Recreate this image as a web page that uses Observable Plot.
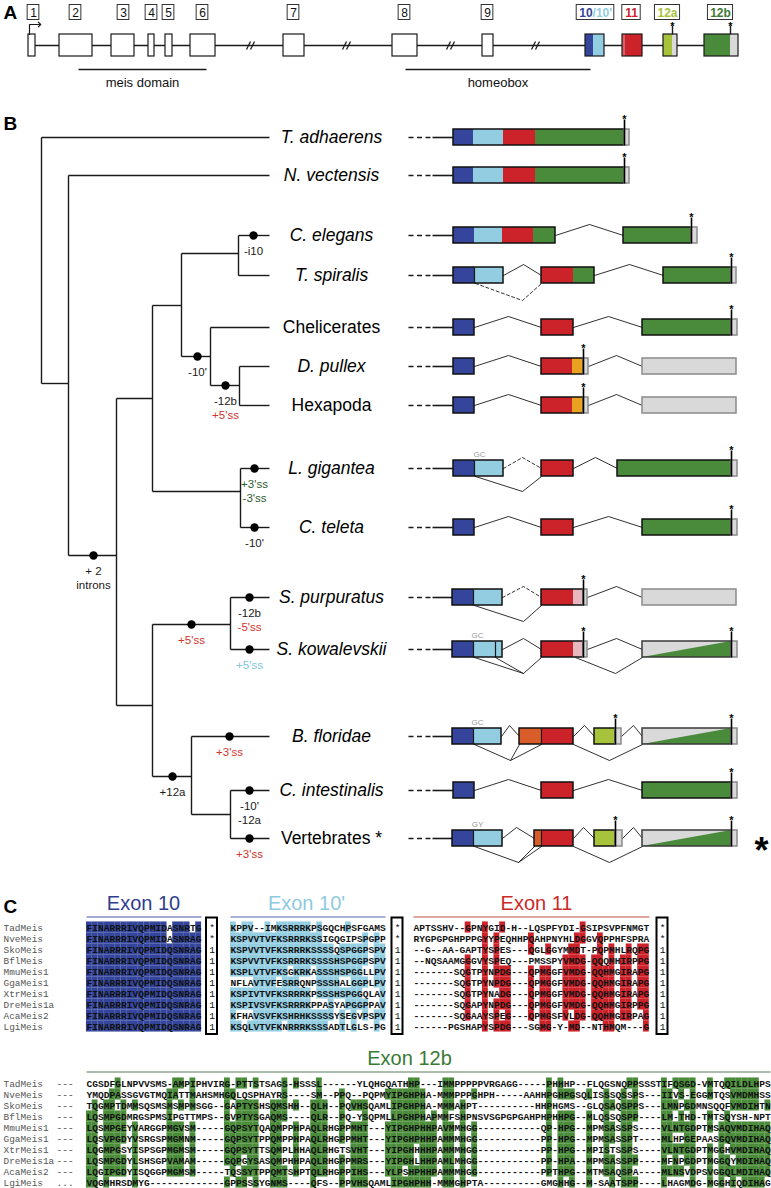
<!DOCTYPE html>
<html>
<head>
<meta charset="utf-8">
<script src="https://cdn.jsdelivr.net/npm/d3@7"></script>
<script src="https://cdn.jsdelivr.net/npm/@observablehq/plot@0.6"></script>
<style>
html,body{margin:0;padding:0;background:#fff;}
#chart svg{display:block;}
</style>
</head>
<body>
<div id="chart"></div>
<script>
// ======================= DATA =======================
// ---- Panel A: Meis gene model (exon coordinates along the drawn gene) ----
const geneExonIds   = ["1","2","3","4","5","6","7","8","9","10/10'","11","12a","12b"];
const geneExonStart = [28,59,111,148,165,190,283,392,482,585,622,663,704];
const geneExonEnd   = [35,92,134,154,172,215,304,417,493,604,642,677,738];
const geneLabelCenter = [33,75,123,151,168,202,293,404,487,595,631,667,720];
const geneColouredParts = [
  {start:585,end:593,key:"db"},{start:593,end:604,key:"lb"},
  {start:622,end:625,key:"rd2"},{start:625,end:642,key:"rd"},
  {start:663,end:672,key:"yg"},{start:672,end:677,key:"gy"},
  {start:704,end:730,key:"gr"},{start:730,end:738,key:"gy"}
];
const geneStops  = [672,730];
const geneBreaks = [250,346,450,535];
const geneDomains = [{name:"meis domain",start:78,end:206},{name:"homeobox",start:405,end:590}];

// ---- Panel B: tree ----
const leafNames  = ["T. adhaerens","N. vectensis","C. elegans","T. spiralis","Chelicerates","D. pullex","Hexapoda","L. gigantea","C. teleta","S. purpuratus","S. kowalevskii","B. floridae","C. intestinalis","Vertebrates *"];
const leafItalic = [true,true,true,true,false,true,false,true,true,true,true,true,true,false];
const leafRowY   = [137,175,235,275,327,366,405,468,527,597,649,736,790,838];
const leafParent = ["root","n1","nem","nem","art","pan","pan","lop","lop","amb","amb","cho","olf","olf"];
const treeNodes = [
  {id:"root",parent:null, depth:41},
  {id:"n1",  parent:"root",depth:68, y:383},
  {id:"bil", parent:"n1",  depth:116,y:555},
  {id:"pro", parent:"bil", depth:152,y:398},
  {id:"ecd", parent:"pro", depth:181,y:305},
  {id:"nem", parent:"ecd", depth:238,y:253},
  {id:"art", parent:"ecd", depth:210,y:356},
  {id:"pan", parent:"art", depth:239,y:385},
  {id:"lop", parent:"pro", depth:240,y:491},
  {id:"deu", parent:"bil", depth:152,y:705},
  {id:"amb", parent:"deu", depth:230,y:624},
  {id:"cho", parent:"deu", depth:191,y:776},
  {id:"olf", parent:"cho", depth:230,y:814}
];
const treeEvents = [
  {on:"C. elegans",    at:253, labels:[["-i10","k"]]},
  {on:"art",           at:197, labels:[["-10'","k"]]},
  {on:"pan",           at:225, labels:[["-12b","k"],["+5'ss","red"]]},
  {on:"L. gigantea",   at:254, labels:[["+3'ss","dkg"],["-3'ss","dkg"]]},
  {on:"C. teleta",     at:254, labels:[["-10'","k"]]},
  {on:"bil",           at:93,  labels:[["+ 2","k"],["introns","k"]]},
  {on:"amb",           at:191, labels:[["+5'ss","red"]]},
  {on:"S. purpuratus", at:249, labels:[["-12b","k"],["-5'ss","red"]]},
  {on:"S. kowalevskii",at:249, labels:[["+5'ss","blue"]]},
  {on:"cho",           at:172, labels:[["+12a","k"]]},
  {on:"B. floridae",   at:229, labels:[["+3'ss","red"]]},
  {on:"C. intestinalis",at:249,labels:[["-10'","k"],["-12a","k"]]},
  {on:"Vertebrates *", at:249, labels:[["+3'ss","red"]]}
];

// ---- Panel B: exon structures (species, start, end, colour key) ----
const structParts = [
  ["T. adhaerens",453,473,"db"],["T. adhaerens",473,503,"lb"],["T. adhaerens",503,535,"rd"],["T. adhaerens",535,624,"gr"],["T. adhaerens",624,629,"gy"],
  ["N. vectensis",453,473,"db"],["N. vectensis",473,503,"lb"],["N. vectensis",503,535,"rd"],["N. vectensis",535,624,"gr"],["N. vectensis",624,629,"gy"],
  ["C. elegans",453,474,"db"],["C. elegans",474,502,"lb"],["C. elegans",502,533,"rd"],["C. elegans",533,555,"gr"],["C. elegans",623,691,"gr"],["C. elegans",691,697,"gy"],
  ["T. spiralis",453,474,"db"],["T. spiralis",474,503,"lb"],["T. spiralis",541,573,"rd"],["T. spiralis",573,594,"gr"],["T. spiralis",663,731,"gr"],["T. spiralis",731,736,"gy"],
  ["Chelicerates",453,474,"db"],["Chelicerates",541,573,"rd"],["Chelicerates",642,731,"gr"],["Chelicerates",731,737,"gy"],
  ["D. pullex",453,474,"db"],["D. pullex",541,572,"rd"],["D. pullex",572,583,"or"],["D. pullex",583,588,"gy"],["D. pullex",642,736,"gy"],
  ["Hexapoda",453,474,"db"],["Hexapoda",541,572,"rd"],["Hexapoda",572,583,"or"],["Hexapoda",583,588,"gy"],["Hexapoda",642,736,"gy"],
  ["L. gigantea",453,474,"db"],["L. gigantea",474,503,"lb"],["L. gigantea",541,573,"rd"],["L. gigantea",617,731,"gr"],["L. gigantea",731,737,"gy"],
  ["C. teleta",453,474,"db"],["C. teleta",541,573,"rd"],["C. teleta",642,731,"gr"],["C. teleta",731,737,"gy"],
  ["S. purpuratus",452,473,"db"],["S. purpuratus",473,502,"lb"],["S. purpuratus",541,573,"rd"],["S. purpuratus",573,583,"pk"],["S. purpuratus",583,587,"gy"],["S. purpuratus",642,736,"gy"],
  ["S. kowalevskii",452,473,"db"],["S. kowalevskii",473,502,"lb"],["S. kowalevskii",541,573,"rd"],["S. kowalevskii",573,583,"pk"],["S. kowalevskii",583,587,"gy"],["S. kowalevskii",642,731,"gy"],["S. kowalevskii",731,737,"gy"],
  ["B. floridae",452,473,"db"],["B. floridae",473,501,"lb"],["B. floridae",519,541,"or2"],["B. floridae",541,573,"rd"],["B. floridae",594,615,"yg"],["B. floridae",615,621,"gy"],["B. floridae",642,731,"gy"],["B. floridae",731,737,"gy"],
  ["C. intestinalis",453,474,"db"],["C. intestinalis",541,573,"rd"],["C. intestinalis",642,731,"gr"],["C. intestinalis",731,737,"gy"],
  ["Vertebrates *",452,473,"db"],["Vertebrates *",473,502,"lb"],["Vertebrates *",534,541,"or2"],["Vertebrates *",541,573,"rd"],["Vertebrates *",594,615,"yg"],["Vertebrates *",615,622,"gy"],["Vertebrates *",642,731,"gy"],["Vertebrates *",731,737,"gy"]
];
const structBoxes = [
  ["T. adhaerens",453,624,"k"],["T. adhaerens",624,629,"g"],
  ["N. vectensis",453,624,"k"],["N. vectensis",624,629,"g"],
  ["C. elegans",453,555,"k"],["C. elegans",623,691,"k"],["C. elegans",691,697,"g"],
  ["T. spiralis",453,503,"k"],["T. spiralis",541,594,"k"],["T. spiralis",663,731,"k"],["T. spiralis",731,736,"g"],
  ["Chelicerates",453,474,"k"],["Chelicerates",541,573,"k"],["Chelicerates",642,731,"k"],["Chelicerates",731,737,"g"],
  ["D. pullex",453,474,"k"],["D. pullex",541,583,"k"],["D. pullex",583,588,"g"],["D. pullex",642,736,"g"],
  ["Hexapoda",453,474,"k"],["Hexapoda",541,583,"k"],["Hexapoda",583,588,"g"],["Hexapoda",642,736,"g"],
  ["L. gigantea",453,503,"k"],["L. gigantea",541,573,"k"],["L. gigantea",617,731,"k"],["L. gigantea",731,737,"g"],
  ["C. teleta",453,474,"k"],["C. teleta",541,573,"k"],["C. teleta",642,731,"k"],["C. teleta",731,737,"g"],
  ["S. purpuratus",452,502,"k"],["S. purpuratus",541,583,"k"],["S. purpuratus",583,587,"g"],["S. purpuratus",642,736,"g"],
  ["S. kowalevskii",452,502,"k"],["S. kowalevskii",541,583,"k"],["S. kowalevskii",583,587,"g"],["S. kowalevskii",642,731,"d"],["S. kowalevskii",731,737,"g"],
  ["B. floridae",452,501,"k"],["B. floridae",519,573,"k"],["B. floridae",594,615,"k"],["B. floridae",615,621,"g"],["B. floridae",642,731,"d"],["B. floridae",731,737,"g"],
  ["C. intestinalis",453,474,"k"],["C. intestinalis",541,573,"k"],["C. intestinalis",642,731,"k"],["C. intestinalis",731,737,"g"],
  ["Vertebrates *",452,502,"k"],["Vertebrates *",534,573,"k"],["Vertebrates *",594,615,"k"],["Vertebrates *",615,622,"g"],["Vertebrates *",642,731,"d"],["Vertebrates *",731,737,"g"]
];
const structTriangles = [["S. kowalevskii",642,731],["B. floridae",642,731],["Vertebrates *",642,731]];
const structStops = [
  ["T. adhaerens",624],["N. vectensis",624],["C. elegans",691],["T. spiralis",731],["Chelicerates",731],
  ["D. pullex",583],["Hexapoda",583],["L. gigantea",731],["C. teleta",731],["S. purpuratus",583],
  ["S. kowalevskii",583],["S. kowalevskii",731],["B. floridae",615],["B. floridae",731],
  ["C. intestinalis",731],["Vertebrates *",615],["Vertebrates *",731]
];
const structDividers = [["T. spiralis",474],["L. gigantea",474],["S. purpuratus",473],["S. kowalevskii",473],["S. kowalevskii",495],
  ["B. floridae",473],["B. floridae",541],["Vertebrates *",473],["Vertebrates *",541]];
// introns: species, dashed?, vertices [x, offset from row centre]
const structIntrons = [
  ["C. elegans",false,[[555,0],[589,-11],[623,0]]],
  ["T. spiralis",false,[[503,0],[523,-11],[541,0]]],["T. spiralis",false,[[594,0],[629,-11],[663,0]]],["T. spiralis",true,[[475,8],[522,25],[541,8]]],
  ["Chelicerates",false,[[474,0],[508,-11],[541,0]]],["Chelicerates",false,[[573,0],[608,-11],[642,0]]],
  ["D. pullex",false,[[474,0],[508,-11],[541,0]]],["D. pullex",false,[[588,0],[616,-11],[642,0]]],
  ["Hexapoda",false,[[474,0],[508,-11],[541,0]]],["Hexapoda",false,[[588,0],[616,-11],[642,0]]],
  ["L. gigantea",true,[[503,0],[522,-11],[541,0]]],["L. gigantea",false,[[475,8],[522,23],[541,8]]],["L. gigantea",false,[[573,0],[595,-11],[617,0]]],
  ["C. teleta",false,[[474,0],[508,-11],[541,0]]],["C. teleta",false,[[573,0],[608,-11],[642,0]]],
  ["S. purpuratus",true,[[502,0],[523,-11],[541,0]]],["S. purpuratus",false,[[474,8],[523,24],[541,8]]],["S. purpuratus",false,[[587,0],[616,-11],[642,0]]],
  ["S. kowalevskii",false,[[502,0],[523,-11],[541,0]]],["S. kowalevskii",false,[[474,8],[523,24],[541,8]]],["S. kowalevskii",false,[[495,8],[523,24]]],
  ["S. kowalevskii",false,[[587,0],[616,-11],[642,0]]],["S. kowalevskii",false,[[575,8],[615,24],[642,8]]],
  ["B. floridae",false,[[501,0],[509,-11],[519,0]]],["B. floridae",false,[[573,0],[584,-11],[594,0]]],["B. floridae",false,[[621,0],[633,-11],[642,0]]],
  ["B. floridae",false,[[474,8],[510,24],[519,8]]],["B. floridae",false,[[510,24],[541,8]]],["B. floridae",false,[[573,8],[609,24],[642,8]]],
  ["C. intestinalis",false,[[474,0],[508,-11],[541,0]]],["C. intestinalis",false,[[573,0],[608,-11],[642,0]]],
  ["Vertebrates *",false,[[502,0],[516,-11],[534,0]]],["Vertebrates *",false,[[573,0],[583,-11],[594,0]]],["Vertebrates *",false,[[622,0],[633,-11],[642,0]]],
  ["Vertebrates *",false,[[474,8],[518,24],[534,8]]],["Vertebrates *",false,[[518,24],[541,8]]],["Vertebrates *",false,[[573,8],[609,24],[642,8]]]
];
const structSiteLabels = [["L. gigantea",479,"GC"],["S. kowalevskii",477,"GC"],["B. floridae",477,"GC"],["Vertebrates *",477,"GY"]];

// ---- Panel C: alignments ----
const alnNames = ["TadMeis","NveMeis","SkoMeis","BflMeis","MmuMeis1","GgaMeis1","XtrMeis1","DreMeis1a","AcaMeis2","LgiMeis"];
const exon10Seqs = [
  "FINARRRIVQPMIDASNRTG","FINARRRIVQPMIDASNRAG","FINARRRIVQPMIDQSNRAG","FINARRRIVQPMIDQSNRAG","FINARRRIVQPMIDQSNRAG",
  "FINARRRIVQPMIDQSNRAG","FINARRRIVQPMIDQSNRAG","FINARRRIVQPMIDQSNRAG","FINARRRIVQPMIDQSNRAG","FINARRRIVQPMIDQSNRAG"];
const exon10pSeqs = [
  "KPPV--IMKSRRRKPSGQCHPSFGAMS","KSPVVTVFKSRRRKSSIGQGIPSPGPP","KSPVVTVFKSRRRKSSSSQSPGGPSPV","KSPVVTVFKSRRRKSSSSHSPGGPSPV",
  "KSPLVTVFKSGKRKASSSHSPGGLLPV","NFLAVTVFESRRQNPSSSHALGGPLPV","KSPIVTVFKSRRRKPSSSHSPGGQLAV","KSPIVSVFKSRRRKPPASYAPGGPPAV",
  "KFHAVSVFKSHRHKSSSSYSEGVPSPV","KSQLVTVFKNRRRKSSSADTLGLS-PG"];
const exon11Seqs = [
  "APTSSHV--GPNYGID-H--LQSPFYDI-GSIPSVPFNMGT","RYGPGPGHPPPGYYPEQHHPQAHPNYHLDGGVQPPHFSPRA",
  "--G--AA-GAPTYSPES---QGLGGYMMDT-PQPMHLRQPG","--NQSAAMGGGVYSPEQ---PMSSPYVMDG-QQQMHIRPPG",
  "-------SQGTPYNPDG---QPMGGFVMDG-QQHMGIRAPG","-------SQGTPYNPDG---QPMGGFVMDG-QQHMGIRAPG",
  "-------SQGTPYNADG---QPMGGFVMDG-QQHMGIRAPG","-------SQGAPYNPDG---QPMGGFVMDG-QQHMGIRPPG",
  "-------SQGAAYSPEG---QPMGSFVLDG-QQHMGIRPAG","------PGSHAPYSPDG---SGMG-Y-MD--NTHMQM---G"];
const phaseMarks = ["*","*","1","1","1","1","1","1","1","1"];
const exon12bLead = ["---","---","---","---","---","---","---","---","---","..."];
const exon12bSeqs = [
  "CGSDFGLNPVVSMS-AMPIPHVIRG-PTTSTSAGS-HSSSL------YLQHGQATHHP---IMMPPPPPVRGAGG-----PHHHP--FLQGSNQPPSSSTIFQSGD-VMTQQILDLHPS",
  "YMQDPASSGVGTMQIATTMAHSMHGQLQSPHAYRS----SM--PPQ--PQPMYIPGHPHA-MMMPPPGHPH-----AAHHPGHPGSQLISSSQSSPS---IIVS-EGGMTQSVMDMHSS",
  "TQGMPTDMMSQSMSMSMPMSGG--GAPTYSHSQMSHH--QLH--PQVHSQAMLIPGHPHA-MMMAHPT----------HHPHGMS--GLQSAQSPPS---LMNPGDMNSQQFVMDIHTN",
  "LQSMPGDMRGSPMSIPGTTMPS--GVPTYSGAQMS----QLR--PQ-YSQPMLLPGHPHAPMMFSHPNSVSGPGPGAHPHPHHPG--MLQSSQSPP----LM-THD-TMTSQYSH-NPT",
  "LQSMPGEYVARGGPMGVSM-----GQPSYTQAQMPPHPAQLRHGPPMHT---YIPGHPHHPAVMMHGG-----------QP-HPG--MPMSASSPS----VLNTGDPTMSAQVMDIHAQ",
  "LQSVPGDYVSRGSPMGMNM-----GQPSYTPPQMPPHPAQLRHGPPMHT---YIPGHPHHPAMMMHGG-----------PP-HPG--MPMSASSPT----MLHPGEPAASGQVMDIHAQ",
  "LQGMPGSYISPSGPMGMSM-----GQPSYTTSQMPLHHAQLRHGTSVHT---YIPGHHHHPAMMMHGG-----------PP-HPG--MPISTSSPS----VLNTGDPTMGGHVMDIHAQ",
  "LQSMPGDYLSHSGPVAMAM-----GQPGYSASQMPHHPAQLRHGPPMRS---YIPGHLHHPAMLMHGG-----------PP-HPA--MPMSASSPP----MFNPGDPTMGGQYMDIHAQ",
  "LQGIPGDYISQGGPMGMSM-----TQSSYTPPQMTSHPTQLRHGPPIHS---YLPSHPHHPAMMMHGG-----------PPTHPG--MTMSAQSPA----MLNSVDPSVGGQLMDIHAQ",
  "VQGMHRSDMYG-------------GPPSSSYGNMS----QFS--PPVHSQAMLIPGHPHH-MMMGHPTA----------GMGHHG--M-SAATSPP----LHAGMDG-MGGHIQDIHAG"];
// residue similarity groups used for shading
const similarityGroups = ["ILMV","FYW","KRH","DE","QN","ST","AG","P","C"];

// ======================= STYLE / LAYOUT =======================
const W = 771, H = 1188;
const C = {db:"#34459b", lb:"#93cde1", rd:"#cc2229", rd2:"#d8606a", gr:"#4a8a3b", gy:"#d9d9d9", or:"#e9a21f",
  or2:"#d85d28", yg:"#a7c23b", pk:"#e8b8c1", grDark:"#3e7a36", k:"#1a1a1a", red:"#d0342c", blue:"#7ec5dc", dkg:"#2e5b30"};
const SANS = "Liberation Sans, Arial, Helvetica, sans-serif";
const MONO = "Liberation Mono, Courier New, monospace";
const geneY = 45, geneHalf = 11, labelY = 12, domainY = 69;
const tipX = 269, leafLabelX = 331, boxHalf = 8, leaderX0 = 408, leaderX1 = 432, leaderX2 = 453;
const cw = 5.75, alnY0 = 927, alnStep = 11, aln2Y0 = 1083;

// ======================= DERIVED =======================
const rowY = new Map(leafNames.map((n, i) => [n, leafRowY[i]]));
const nodeById = new Map(treeNodes.map(n => [n.id, n]));
const posY = id => rowY.has(id) ? rowY.get(id) : nodeById.get(id).y;
const posX = id => rowY.has(id) ? tipX : nodeById.get(id).depth;
const allChildren = id => [
  ...treeNodes.filter(n => n.parent === id).map(n => n.id),
  ...leafNames.filter((n, i) => leafParent[i] === id)];
const hEdges = [
  ...treeNodes.filter(n => n.parent).map(n => ({x1: posX(n.parent), x2: n.depth, y: n.y})),
  ...leafNames.map((n, i) => ({x1: posX(leafParent[i]), x2: tipX, y: leafRowY[i]}))];
const vEdges = treeNodes.map(n => {
  const ys = allChildren(n.id).map(posY);
  return {x: n.depth, y1: d3.min(ys), y2: d3.max(ys)};
});
const eventLabels = treeEvents.flatMap(e => e.labels.map(([t, c], j) => ({x: e.at, y: posY(e.on) + 16 + 14 * j, t, c: C[c]})));

const geneExons = geneExonIds.map((id, i) => ({id, start: geneExonStart[i], end: geneExonEnd[i], lc: geneLabelCenter[i]}));
const charW = ch => /[0-9ab]/.test(ch) ? 6.7 : ch === "/" ? 3.4 : 2.4;
const geneLabelBoxes = geneExons.map(e => {
  const w = d3.sum(e.id.split(""), charW) + 5;
  return {x1: e.lc - w / 2, x2: e.lc + w / 2, c: e.lc};
});
const coloredLabel = {"10/10'": [["10", "db"], ["/10'", "lb"]], "11": [["11", "rd"]], "12a": [["12a", "yg"]], "12b": [["12b", "grDark"]]};
const geneLabelTexts = geneExons.flatMap(e => {
  const parts = coloredLabel[e.id];
  if (!parts) return [{x: e.lc, t: e.id, c: "#111", anchor: "middle", bold: false}];
  if (parts.length === 1) return [{x: e.lc, t: parts[0][0], c: C[parts[0][1]], anchor: "middle", bold: true}];
  const total = d3.sum(e.id.split(""), charW);
  const split = e.lc - total / 2 + d3.sum(parts[0][0].split(""), charW);
  return [{x: split, t: parts[0][0], c: C[parts[0][1]], anchor: "end", bold: true},
          {x: split, t: parts[1][0], c: C[parts[1][1]], anchor: "start", bold: true}];
});

const groupOf = ch => { const g = similarityGroups.find(s => s.includes(ch)); return g || ch; };
function block(seqs, x0, y0, threshold, colour, similar) {
  const L = d3.max(seqs, s => s.length);
  const key = similar ? groupOf : (c => c);
  const cons = d3.range(L).map(i => {
    const counts = d3.rollup(seqs.map(s => s[i]).filter(c => c && c !== "-" && c !== "."), v => v.length, key);
    let best = null, n = 0;
    for (const [c, k] of counts) if (k > n) { n = k; best = c; }
    return n >= threshold ? best : null;
  });
  return seqs.flatMap((s, r) => s.split("").map((ch, i) => ({
    x: x0 + (i + 0.5) * cw, y: y0 + r * alnStep, ch,
    shade: cons[i] !== null && ch !== "-" && key(ch) === cons[i], fill: colour
  })));
}
const cells = [
  ...block(exon10Seqs, 86, alnY0, 5, C.db, false),
  ...block(exon10pSeqs, 230, alnY0, 4, C.lb, true),
  ...block(exon11Seqs, 413, alnY0, 6, C.rd, false),
  ...block(exon12bSeqs, 86, aln2Y0, 6, "#4b8c3a", true)
];
const phaseCols = [211.5, 397, 662];
const phaseCells = phaseCols.flatMap(x => phaseMarks.map((m, r) => ({x, y: alnY0 + r * alnStep, m})));
const leadCells = exon12bLead.flatMap((s, r) => s.split("").map((ch, i) => ({x: 56 + (i + 0.5) * cw, y: aln2Y0 + r * alnStep, ch})));
const nameCells = [
  ...alnNames.map((n, r) => ({n, y: alnY0 + r * alnStep})),
  ...alnNames.map((n, r) => ({n, y: aln2Y0 + r * alnStep}))];

const line = {stroke: "#1a1a1a", strokeWidth: 1.4};
const structY = d => rowY.get(d[0]);
const introPts = structIntrons.flatMap((d, k) => d[2].map(([x, o]) => ({k, x, y: rowY.get(d[0]) + o, dashed: d[1]})));
const triPts = structTriangles.flatMap((d, k) => [
  {k, x: d[1], y1: rowY.get(d[0]) + boxHalf, y2: rowY.get(d[0]) + boxHalf},
  {k, x: d[2], y1: rowY.get(d[0]) + boxHalf, y2: rowY.get(d[0]) - boxHalf}]);
const exonHeaders = [
  {t: "Exon 10", x: 143, y: 903, c: "#2f3d8f"}, {t: "Exon 10'", x: 306, y: 903, c: "#8ecae0"},
  {t: "Exon 11", x: 536, y: 903, c: "#cc2a2a"}, {t: "Exon 12b", x: 409, y: 1058, c: "#3a7a35"}];

const marks = [
  // ---------- panel letters ----------
  Plot.text([{t: "A", y: 12}, {t: "B", y: 123}, {t: "C", y: 906}], {x: () => 3, y: "y", text: "t", textAnchor: "start", fontSize: 19, fontWeight: "bold", fontFamily: SANS, fill: "#000"}),

  // ---------- Panel A ----------
  Plot.ruleY([geneY], {x1: geneExonStart[0], x2: geneExonEnd[geneExonEnd.length - 1] - 10, stroke: "#1a1a1a", strokeWidth: 1.4}),
  Plot.link(geneBreaks, {x1: d => d - 4, x2: d => d, y1: geneY + 4, y2: geneY - 4, stroke: "#1a1a1a", strokeWidth: 1.2}),
  Plot.link(geneBreaks, {x1: d => d, x2: d => d + 4, y1: geneY + 4, y2: geneY - 4, stroke: "#1a1a1a", strokeWidth: 1.2}),
  Plot.rect(geneExons, {x1: "start", x2: "end", y1: geneY - geneHalf, y2: geneY + geneHalf, fill: "#fff"}),
  Plot.rect(geneColouredParts, {x1: "start", x2: "end", y1: geneY - geneHalf, y2: geneY + geneHalf, fill: d => C[d.key]}),
  Plot.rect(geneExons, {x1: "start", x2: "end", y1: geneY - geneHalf, y2: geneY + geneHalf, fill: "none", stroke: "#1a1a1a", strokeWidth: 1.2}),
  Plot.link(geneStops, {x1: d => d, x2: d => d, y1: geneY - geneHalf, y2: geneY - geneHalf - 9, stroke: "#1a1a1a", strokeWidth: 1.4}),
  Plot.text(geneStops, {x: d => d, y: geneY - geneHalf - 8, text: () => "*", fontSize: 11, fontWeight: "bold", fill: "#000"}),
  Plot.line([[geneExonStart[0] + 1, geneY - geneHalf], [geneExonStart[0] + 1, geneY - geneHalf - 10], [geneExonStart[0] + 11, geneY - geneHalf - 10]],
    {stroke: "#1a1a1a", strokeWidth: 1.2, markerEnd: "arrow"}),
  Plot.rect(geneLabelBoxes, {x1: "x1", x2: "x2", y1: labelY - 7.5, y2: labelY + 7.5, fill: "#fff", stroke: "#333", strokeWidth: 1}),
  Plot.text(geneLabelTexts.filter(d => d.anchor === "middle" && !d.bold), {x: "x", y: labelY + 0.5, text: "t", fill: "c", fontSize: 12, fontFamily: SANS}),
  Plot.text(geneLabelTexts.filter(d => d.anchor === "middle" && d.bold), {x: "x", y: labelY + 0.5, text: "t", fill: "c", fontSize: 12, fontWeight: "bold", fontFamily: SANS}),
  Plot.text(geneLabelTexts.filter(d => d.anchor === "end"), {x: "x", y: labelY + 0.5, text: "t", fill: "c", textAnchor: "end", fontSize: 12, fontWeight: "bold", fontFamily: SANS}),
  Plot.text(geneLabelTexts.filter(d => d.anchor === "start"), {x: "x", y: labelY + 0.5, text: "t", fill: "c", textAnchor: "start", fontSize: 12, fontWeight: "bold", fontFamily: SANS}),
  Plot.link(geneDomains, {x1: "start", x2: "end", y1: domainY, y2: domainY, stroke: "#1a1a1a", strokeWidth: 1.4}),
  Plot.text(geneDomains, {x: d => (d.start + d.end) / 2, y: domainY + 13, text: "name", fontSize: 13, fontFamily: SANS, fill: "#111"}),

  // ---------- Panel B tree ----------
  Plot.link(hEdges, {x1: "x1", x2: "x2", y1: "y", y2: "y", ...line}),
  Plot.link(vEdges, {x1: "x", x2: "x", y1: "y1", y2: "y2", ...line}),
  Plot.dot(treeEvents, {x: "at", y: d => posY(d.on), r: 4.2, fill: "#000", stroke: "none"}),
  Plot.text(eventLabels, {x: "x", y: "y", text: "t", fill: "c", fontSize: 11.5, fontFamily: SANS}),
  Plot.text(leafNames.filter((n, i) => leafItalic[i]), {x: () => leafLabelX, y: n => rowY.get(n), text: d => d, fontSize: 17.5, fontStyle: "italic", fontFamily: SANS, fill: "#000", ariaLabel: "narrow82"}),
  Plot.text(leafNames.filter((n, i) => !leafItalic[i]), {x: () => leafLabelX, y: n => rowY.get(n), text: d => d, fontSize: 17.5, fontFamily: SANS, fill: "#000", ariaLabel: "narrow82"}),

  // ---------- Panel B exon structures ----------
  Plot.link(leafNames, {x1: leaderX0, x2: leaderX1, y1: n => rowY.get(n), y2: n => rowY.get(n), stroke: "#1a1a1a", strokeWidth: 1.6, strokeDasharray: "5,3.5"}),
  Plot.link(leafNames, {x1: leaderX1, x2: leaderX2, y1: n => rowY.get(n), y2: n => rowY.get(n), stroke: "#1a1a1a", strokeWidth: 1.6}),
  Plot.line(introPts.filter(d => !d.dashed), {x: "x", y: "y", z: "k", stroke: "#1a1a1a", strokeWidth: 0.9}),
  Plot.line(introPts.filter(d => d.dashed), {x: "x", y: "y", z: "k", stroke: "#1a1a1a", strokeWidth: 0.9, strokeDasharray: "3,2.5"}),
  Plot.rect(structParts, {x1: d => d[1], x2: d => d[2], y1: d => structY(d) - boxHalf, y2: d => structY(d) + boxHalf, fill: d => C[d[3]]}),
  Plot.areaY(triPts, {x: "x", y1: "y1", y2: "y2", z: "k", fill: C.gr, curve: "linear"}),
  Plot.link(structDividers, {x1: d => d[1], x2: d => d[1], y1: d => structY(d) - boxHalf, y2: d => structY(d) + boxHalf, stroke: "#1a1a1a", strokeWidth: 1.2}),
  Plot.rect(structBoxes, {x1: d => d[1], x2: d => d[2], y1: d => structY(d) - boxHalf, y2: d => structY(d) + boxHalf, fill: "none",
    stroke: d => d[3] === "g" ? "#8a8a8a" : d[3] === "d" ? "#3a3a3a" : "#111", strokeWidth: 1.5}),
  Plot.link(structStops, {x1: d => d[1], x2: d => d[1], y1: d => structY(d) + boxHalf, y2: d => structY(d) - boxHalf - 10, stroke: "#000", strokeWidth: 1.6}),
  Plot.text(structStops, {x: d => d[1], y: d => structY(d) - boxHalf - 10, text: () => "*", fontSize: 11, fontWeight: "bold", fill: "#000"}),
  Plot.text(structSiteLabels, {x: d => d[1], y: d => structY(d) - 14, text: d => d[2], fontSize: 8, fill: "#9a9a9a", fontFamily: SANS, ariaLabel: "narrow82"}),
  Plot.text(["*"], {x: () => 761, y: () => 851, text: d => d, fontSize: 36, fontWeight: "bold", fill: "#000", fontFamily: SANS}),

  // ---------- Panel C ----------
  Plot.text(exonHeaders, {x: "x", y: "y", text: "t", fill: "c", fontSize: 20, fontFamily: SANS, ariaLabel: "narrow75"}),
  Plot.link([
    {x1: 86, x2: 201, y: 916.5, c: "#4a58a0"}, {x1: 230, x2: 385, y: 916.5, c: "#5566aa"},
    {x1: 413, x2: 649, y: 916.5, c: "#c84a4a"}, {x1: 86, x2: 770, y: 1071.5, c: "#5a7a5a"}],
    {x1: "x1", x2: "x2", y1: "y", y2: "y", stroke: "c", strokeWidth: 1.2}),
  Plot.rect(cells.filter(d => d.shade), {x1: d => d.x - cw / 2 - 0.05, x2: d => d.x + cw / 2 + 0.05, y1: d => d.y - alnStep / 2 - 0.05, y2: d => d.y + alnStep / 2 + 0.05, fill: "fill"}),
  Plot.text(cells, {x: "x", y: "y", text: "ch", fontSize: 9.6, fontWeight: "bold", fontFamily: MONO, fill: "#111"}),
  Plot.text(leadCells, {x: "x", y: "y", text: "ch", fontSize: 9.6, fontFamily: MONO, fill: "#444"}),
  Plot.text(nameCells, {x: () => 3, y: "y", text: "n", textAnchor: "start", fontSize: 9.4, fontFamily: MONO, fill: "#555"}),
  Plot.rect(phaseCols, {x1: d => d - 5.5, x2: d => d + 5.5, y1: alnY0 - 9.5, y2: alnY0 + 9 * alnStep + 8, fill: "none", stroke: "#000", strokeWidth: 2}),
  Plot.text(phaseCells, {x: "x", y: "y", text: "m", fontSize: 9.6, fontFamily: MONO, fill: "#111"})
];

const chart = Plot.plot({
  width: W, height: H, margin: 0,
  x: {domain: [0, W], range: [0, W], axis: null},
  y: {domain: [0, H], range: [0, H], axis: null},
  color: {type: "identity"},
  style: {background: "#fff", fontFamily: SANS},
  marks
});
document.getElementById("chart").appendChild(chart);
// condensed look: compress selected labels horizontally
for (const [label, f] of [["narrow82", 0.82], ["narrow75", 0.75]]) {
  chart.querySelectorAll(`g[aria-label="${label}"] text`).forEach(t => {
    const L = t.getComputedTextLength();
    t.setAttribute("textLength", (L * f).toFixed(2));
    t.setAttribute("lengthAdjust", "spacingAndGlyphs");
  });
}
</script>
</body>
</html>
